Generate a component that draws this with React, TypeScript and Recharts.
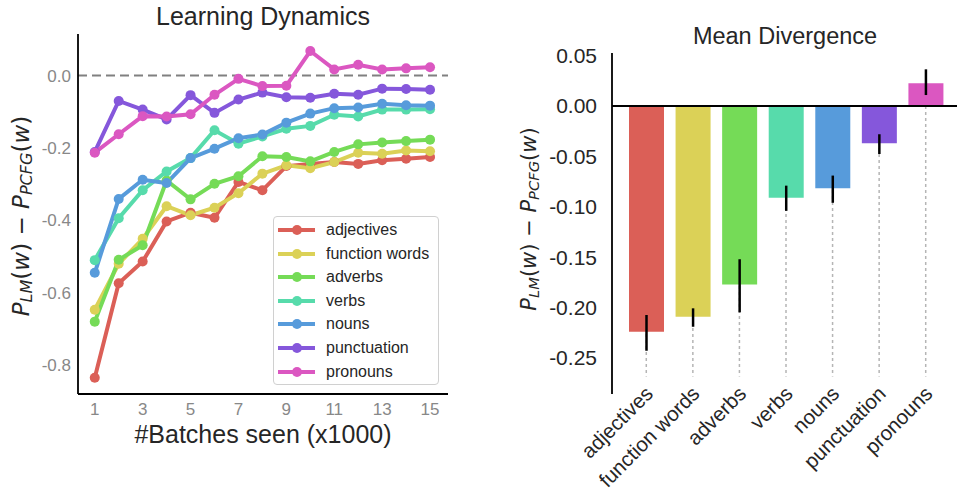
import React from 'react';
import { LineChart, Line, XAxis, YAxis, ReferenceLine, BarChart, Bar, Cell, ErrorBar } from 'recharts';

const categories = ['adjectives', 'function words', 'adverbs', 'verbs', 'nouns', 'punctuation', 'pronouns'];
const colors = ['#db5f57', '#dbd157', '#75db57', '#57dbab', '#579bdb', '#8557db', '#db57c1'];
const seriesKeys = ['s0', 's1', 's2', 's3', 's4', 's5', 's6'];

const batches = [1, 2, 3, 4, 5, 6, 7, 8, 9, 10, 11, 12, 13, 14, 15];
const xTicks = [1, 3, 5, 7, 9, 11, 13, 15];
const yTicksLeft = [-0.8, -0.6, -0.4, -0.2, 0.0];
const yTicksRight = [-0.25, -0.2, -0.15, -0.1, -0.05, 0.0, 0.05];

const adjectives = [-0.835, -0.574, -0.514, -0.403, -0.379, -0.393, -0.294, -0.317, -0.25, -0.244, -0.239, -0.244, -0.234, -0.23, -0.225];
const functionWords = [-0.647, -0.52, -0.451, -0.361, -0.386, -0.365, -0.325, -0.271, -0.248, -0.256, -0.239, -0.213, -0.216, -0.207, -0.209];
const adverbs = [-0.68, -0.509, -0.469, -0.29, -0.342, -0.299, -0.278, -0.223, -0.225, -0.237, -0.211, -0.19, -0.185, -0.181, -0.177];
const verbs = [-0.51, -0.394, -0.317, -0.265, -0.228, -0.151, -0.188, -0.168, -0.147, -0.139, -0.108, -0.113, -0.094, -0.094, -0.093];
const nouns = [-0.545, -0.341, -0.288, -0.297, -0.228, -0.202, -0.173, -0.163, -0.13, -0.105, -0.09, -0.088, -0.078, -0.082, -0.083];
const punctuation = [-0.211, -0.07, -0.094, -0.121, -0.054, -0.103, -0.066, -0.047, -0.06, -0.061, -0.05, -0.053, -0.036, -0.037, -0.039];
const pronouns = [-0.213, -0.162, -0.112, -0.113, -0.107, -0.053, -0.009, -0.029, -0.028, 0.068, 0.017, 0.03, 0.017, 0.02, 0.023];

const meanDivergence = [-0.224, -0.209, -0.177, -0.091, -0.0817, -0.037, 0.0225];
const errLow = [-0.2428, -0.219, -0.2047, -0.104, -0.096, -0.0476, 0.0109];
const errHigh = [-0.2073, -0.2007, -0.152, -0.079, -0.069, -0.028, 0.0364];
const gridBottom = -0.2684;

const allSeries = [adjectives, functionWords, adverbs, verbs, nouns, punctuation, pronouns];

const lineData = batches.map((b, i) => {
  const row: any = { batch: b };
  allSeries.forEach((s, k) => { row[seriesKeys[k]] = s[i]; });
  return row;
});

const barData = categories.map((c, i) => ({
  name: c,
  value: meanDivergence[i],
  err: [meanDivergence[i] - errLow[i], errHigh[i] - meanDivergence[i]],
}));

const FONT = '"Liberation Sans", Arial, sans-serif';
const TEXT = '#262626';

const LegendBox = () => (
  <div style={{ position: 'absolute', left: 273, top: 216, width: 166, height: 169, boxSizing: 'border-box', border: '1px solid #d0d0d0', borderRadius: 4, background: 'rgba(255,255,255,0.85)', fontFamily: FONT }}>
    {categories.map((c, i) => (
      <div key={c} style={{ position: 'absolute', left: 0, top: 13 + i * 23.6 - 12, height: 24, width: 164 }}>
        <div style={{ position: 'absolute', left: 4, top: 10, width: 37, height: 4, background: colors[i] }} />
        <div style={{ position: 'absolute', left: 17.5, top: 7, width: 10, height: 10, borderRadius: 5, background: colors[i] }} />
        <div style={{ position: 'absolute', left: 52, top: 2, fontSize: 16, lineHeight: '20px', color: TEXT, whiteSpace: 'nowrap' }}>{c}</div>
      </div>
    ))}
  </div>
);

const MathLabel = ({ cx, cy, size }: { cx: number; cy: number; size: number }) => {
  const sub = size * 0.7;
  const sh = size * 0.2;
  return (
    <text transform={`rotate(-90, ${cx}, ${cy})`} x={cx} y={cy} textAnchor="middle" dominantBaseline="central" fontFamily='"DejaVu Sans", sans-serif' fontSize={size} fill={TEXT}>
      <tspan fontStyle="italic">P</tspan>
      <tspan fontStyle="italic" fontSize={sub} dy={sh}>LM</tspan>
      <tspan dy={-sh}>(</tspan>
      <tspan fontStyle="italic">w</tspan>
      <tspan>{') \u2212 '}</tspan>
      <tspan fontStyle="italic">P</tspan>
      <tspan fontStyle="italic" fontSize={sub} dy={sh}>PCFG</tspan>
      <tspan dy={-sh}>(</tspan>
      <tspan fontStyle="italic">w</tspan>
      <tspan>)</tspan>
    </text>
  );
};

const RotTick = (props: any) => {
  const { x, y, payload } = props;
  const ax = x + 8;
  const ay = y + 1;
  return (
    <text x={ax} y={ay} transform={`rotate(-45, ${ax}, ${ay})`} textAnchor="end" fontFamily={FONT} fontSize={20.5} fill={TEXT}>
      {payload.value}
    </text>
  );
};

const barMargin = { top: 53, right: 0, bottom: 0, left: 0 };
const barYDomain: [number, number] = [-0.2857, 0.0526];

export default function App() {
  return (
    <div style={{ position: 'absolute', left: 0, top: 0, width: 957, height: 493, background: '#fff', overflow: 'hidden' }}>
      <div style={{ position: 'absolute', left: 0, top: 0 }}>
        <LineChart width={460} height={493} data={lineData} margin={{ top: 34, right: 12, bottom: 0, left: 0 }}>
          <XAxis
            dataKey="batch"
            type="number"
            domain={[0.3, 15.75]}
            ticks={xTicks}
            allowDataOverflow
            height={99}
            tickLine={false}
            tickSize={0}
            tickMargin={9}
            axisLine={{ stroke: '#000', strokeWidth: 1.8 }}
            tick={{ fill: '#888', fontSize: 17, fontFamily: FONT }}
          />
          <YAxis
            type="number"
            domain={[-0.88, 0.115]}
            ticks={yTicksLeft}
            allowDataOverflow
            width={78}
            tickLine={false}
            tickSize={0}
            tickMargin={7}
            axisLine={{ stroke: '#000', strokeWidth: 1.8 }}
            tick={{ fill: '#888', fontSize: 17, fontFamily: FONT }}
            tickFormatter={(v: number) => v.toFixed(1)}
          />
          <ReferenceLine y={0} stroke="#808080" strokeWidth={2} strokeDasharray="9 5" />
          {seriesKeys.map((k, i) => (
            <Line
              key={k}
              dataKey={k}
              name={categories[i]}
              stroke={colors[i]}
              strokeWidth={4}
              dot={{ r: 5, fill: colors[i], stroke: 'none' }}
              activeDot={false}
              isAnimationActive={false}
            />
          ))}
        </LineChart>
      </div>
      <LegendBox />
      {/* grid layer beneath the bars */}
      <div style={{ position: 'absolute', left: 497, top: 0 }}>
        <BarChart width={460} height={493} data={barData} margin={barMargin}>
          <XAxis dataKey="name" type="category" height={99} padding={{ left: 11, right: 8 }} axisLine={false} tickLine={false} tick={false} />
          <YAxis type="number" domain={barYDomain} allowDataOverflow width={115} axisLine={false} tickLine={false} tick={false} />
          {categories.map((c) => (
            <ReferenceLine key={c} segment={[{ x: c, y: 0 }, { x: c, y: gridBottom }]} stroke="#b5b5b5" strokeWidth={1.5} strokeDasharray="3 3" />
          ))}
        </BarChart>
      </div>
      <div style={{ position: 'absolute', left: 497, top: 0 }}>
        <BarChart width={460} height={493} data={barData} margin={barMargin} barSize={35}>
          <XAxis
            dataKey="name"
            type="category"
            height={99}
            padding={{ left: 11, right: 8 }}
            axisLine={false}
            tickLine={false}
            tickSize={0}
            tickMargin={0}
            interval={0}
            tick={<RotTick />}
          />
          <YAxis
            type="number"
            domain={barYDomain}
            ticks={yTicksRight}
            allowDataOverflow
            width={115}
            tickLine={false}
            tickSize={0}
            tickMargin={15}
            axisLine={{ stroke: '#000', strokeWidth: 1.8 }}
            tick={{ fill: TEXT, fontSize: 21, fontFamily: FONT }}
            tickFormatter={(v: number) => v.toFixed(2)}
          />
          <Bar dataKey="value" isAnimationActive={false}>
            {barData.map((d, i) => (
              <Cell key={d.name} fill={colors[i]} />
            ))}
            <ErrorBar dataKey="err" width={0} stroke="#000" strokeWidth={2.5} direction="y" />
          </Bar>
          <ReferenceLine y={0} stroke="#000" strokeWidth={1.8} />
        </BarChart>
      </div>
      <svg width={957} height={493} style={{ position: 'absolute', left: 0, top: 0, pointerEvents: 'none' }}>
        <text x={263} y={25} textAnchor="middle" fontFamily={FONT} fontSize={25} fill={TEXT}>Learning Dynamics</text>
        <text x={263} y={443} textAnchor="middle" fontFamily={FONT} fontSize={25} fill={TEXT}>#Batches seen (x1000)</text>
        <text x={785} y={44} textAnchor="middle" fontFamily={FONT} fontSize={23.5} fill={TEXT}>Mean Divergence</text>
        <MathLabel cx={21} cy={216} size={23} />
        <MathLabel cx={529} cy={219} size={21} />
      </svg>
    </div>
  );
}
